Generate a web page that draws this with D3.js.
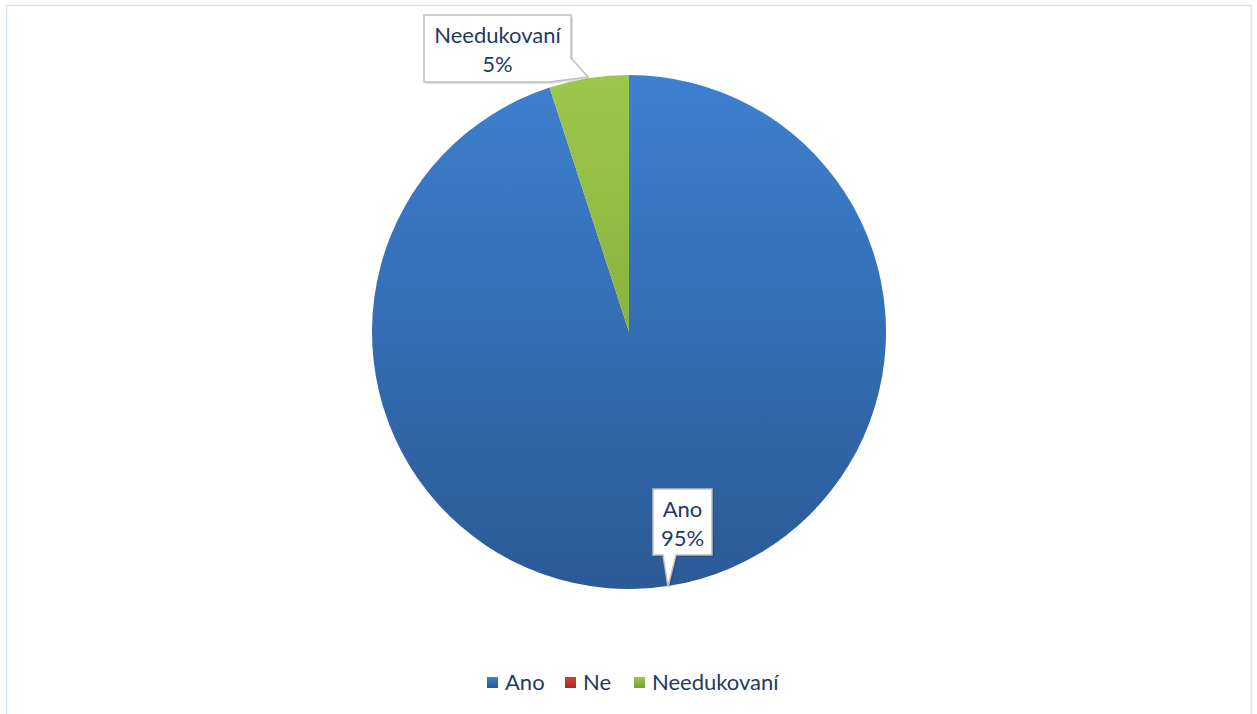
<!DOCTYPE html>
<html><head><meta charset="utf-8">
<script src="https://cdn.jsdelivr.net/npm/d3@7"></script>
<style>body{margin:0;background:#fff}svg{display:block}</style>
</head><body>
<script>
const categories = ["Ano", "Ne", "Needukovaní"];
const values = [95, 0, 5];
const labels = ["95%", "0%", "5%"];
const colorsTop = ["#3d80d0", "#d33f3b", "#9dc74b"];
const colorsBot = ["#2b5a96", "#a52a27", "#74a02f"];

const W = 1257, H = 714;
const svg = d3.select("body").append("svg").attr("width", W).attr("height", H);
const font = "Lato, 'Open Sans', sans-serif";

svg.append("rect").attr("x", 6.5).attr("y", 5.5).attr("width", 1245).attr("height", 720)
  .attr("fill", "#fff").attr("stroke", "#d6e3f5").attr("stroke-width", 1.5);

const cx = 629, cy = 332, R = 257;
const defs = svg.append("defs");
categories.forEach((c, i) => {
  const g = defs.append("linearGradient").attr("id", "g" + i)
    .attr("gradientUnits", "userSpaceOnUse").attr("x1", 0).attr("y1", -R).attr("x2", 0).attr("y2", R);
  g.append("stop").attr("offset", "0%").attr("stop-color", colorsTop[i]);
  g.append("stop").attr("offset", "100%").attr("stop-color", colorsBot[i]);
  const g2 = defs.append("linearGradient").attr("id", "l" + i).attr("x1", 0).attr("y1", 0).attr("x2", 0).attr("y2", 1);
  g2.append("stop").attr("offset", "0%").attr("stop-color", colorsTop[i]);
  g2.append("stop").attr("offset", "100%").attr("stop-color", colorsBot[i]);
});

const pie = d3.pie().sort(null).value(d => d)(values);
const arc = d3.arc().innerRadius(0).outerRadius(R);
const gp = svg.append("g").attr("transform", `translate(${cx},${cy})`);
gp.selectAll("path").data(pie).enter().append("path")
  .attr("d", arc).attr("fill", (d, i) => `url(#g${i})`);

function callout(x0, y0, x1, y1, tip, baseA, baseB, lines, side) {
  const g = svg.append("g");
  const pts = [];
  pts.push([x0, y0], [x1, y0]);
  if (side === "right") {
    pts.push([x1, baseA], tip, [baseB, y1]);
  } else {
    pts.push([x1, y1], [baseB, y1], tip, [baseA, y1]);
  }
  pts.push([x0, y1]);
  const d = "M" + pts.map(p => p.join(",")).join("L") + "Z";
  g.append("path").attr("d", d).attr("transform", "translate(2,2)").attr("fill", "#000").attr("opacity", 0.12);
  g.append("path").attr("d", d).attr("fill", "#fff").attr("stroke", "#bfbfbf").attr("stroke-width", 1.5);
  const midx = (x0 + x1) / 2;
  lines.forEach((t, k) => {
    g.append("text").attr("x", midx).attr("y", y0 + 28 + k * 29).attr("text-anchor", "middle")
      .attr("font-family", font).attr("font-size", 22).attr("fill", "#1f3a5f").text(t);
  });
}
callout(424, 15, 571, 82, [588, 77], 58, 549, [categories[2], labels[2]], "right");
callout(653, 489, 712, 555, [668, 587], 663, 676, [categories[0], labels[0]], "bottom");

const leg = svg.append("g");
const lx = [487, 565, 634];
categories.forEach((c, i) => {
  leg.append("rect").attr("x", lx[i]).attr("y", 677).attr("width", 11).attr("height", 11).attr("fill", `url(#l${i})`);
  leg.append("text").attr("x", lx[i] + 18).attr("y", 690).attr("font-family", font).attr("font-size", 22)
    .attr("fill", "#1f3a5f").text(c);
});
</script>
</body></html>
